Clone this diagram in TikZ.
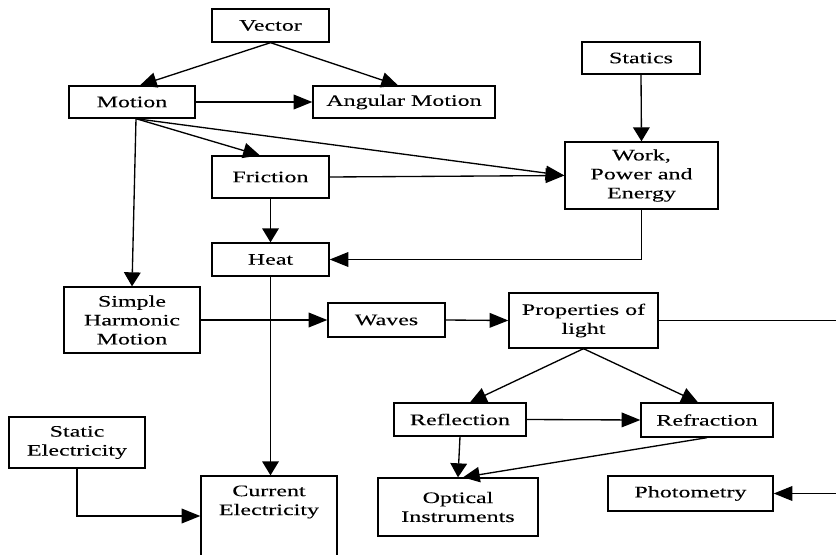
\documentclass[tikz,border=0pt]{standalone}
\usepackage{fontspec}
\setmainfont{Liberation Serif}[FakeStretch=1.5, FakeBold=0.1]
\usetikzlibrary{arrows.meta}
\tikzset{
  box/.style={draw, line width=1pt, inner sep=0pt, align=center,
    font=\fontsize{12}{14.2}\selectfont},
  link/.style={line width=1pt},
  harr/.style={link, -{Triangle[length=14pt,width=11pt]}},
  varr/.style={link, -{Triangle[length=10.5pt,width=12.5pt]}},
  darr/.style={link, -{Triangle[length=12.5pt,width=11.5pt]}},
}
\begin{document}
\begin{tikzpicture}[x=0.75pt, y=-0.75pt]
\clip (0,0) rectangle (836,554);
\fill[white] (0,0) rectangle (836,554);

% mechanics
\node[box, minimum width=117*0.75pt, minimum height=33*0.75pt] (vec) at (270.5,25.5) {Vector};
\node[box, minimum width=126*0.75pt, minimum height=32*0.75pt] (mot) at (132,102) {Motion};
\node[box, minimum width=182*0.75pt, minimum height=32*0.75pt] (ang) at (404,102) {Angular Motion};
\node[box, minimum width=118*0.75pt, minimum height=32*0.75pt] (sta) at (641,58) {Statics};
\node[box, minimum width=117*0.75pt, minimum height=42*0.75pt] (fri) at (270.5,177) {Friction};
\node[box, minimum width=153*0.75pt, minimum height=67*0.75pt] (wrk) at (641.5,175.5) {Work,\\Power and\\Energy};
\node[box, minimum width=117*0.75pt, minimum height=33*0.75pt] (hea) at (270.5,259.5) {Heat};
\node[box, minimum width=136*0.75pt, minimum height=66*0.75pt] (shm) at (132,320) {Simple\\Harmonic\\Motion};

% waves and optics
\node[box, minimum width=117*0.75pt, minimum height=34*0.75pt] (wav) at (386.5,320) {Waves};
\node[box, minimum width=149*0.75pt, minimum height=55*0.75pt] (pro) at (583.5,320.5) {Properties of\\light};
\node[box, minimum width=132*0.75pt, minimum height=33*0.75pt] (rfl) at (460,419.5) {Reflection};
\node[box, minimum width=132*0.75pt, minimum height=34*0.75pt] (rfr) at (707,420) {Refraction};
\node[box, minimum width=160*0.75pt, minimum height=58*0.75pt] (opt) at (458,507) {Optical\\Instruments};
\node[box, minimum width=165*0.75pt, minimum height=35*0.75pt] (pho) at (690.5,493.5) {Photometry};

% electricity
\node[box, minimum width=136*0.75pt, minimum height=51*0.75pt] (sel) at (77,442.5) {Static\\Electricity};
\node[box, minimum width=136*0.75pt, minimum height=80*0.75pt] (cur) at (269,516) {};
\node[box, draw=none] (curtxt) at (269,502) {Current\\Electricity};

\coordinate (rt) at (850,320.5);

% connectors
\draw[darr] (vec.south) -- ([xshift=6pt]mot.north);
\draw[darr] (vec.south) -- ([xshift=-4.5pt]ang.north);
\draw[harr] (mot.east) -- (ang.west);
\draw[darr] ([xshift=3pt]mot.south) -- ([xshift=-8pt]fri.north);
\draw[harr] ([xshift=3pt]mot.south) -- (wrk.west);
\draw[varr] ([xshift=3pt]mot.south) -- (shm.north);
\draw[harr] (fri.east) -- (wrk.west);
\draw[varr] (sta.south) -- (wrk.north);
\draw[varr] (fri.south) -- (hea.north);
\draw[harr] (wrk.south) |- (hea.east);
\draw[varr] (hea.south) -- (hea.south |- cur.north);
\draw[harr] (shm.east) -- (wav.west);
\draw[harr] (wav.east) -- (pro.west);
\draw[harr] (pro.east) -- (rt) |- (pho.east);
\draw[darr] (pro.south) -- ([xshift=7.5pt]rfl.north);
\draw[darr] (pro.south) -- ([xshift=-6.75pt]rfr.north);
\draw[harr] (rfl.east) -- (rfr.west);
\draw[varr] (rfl.south) -- (opt.north);
\draw[darr] (rfr.south) -- ([xshift=3.75pt]opt.north);
\draw[harr] (sel.south) |- (cur.west);
\end{tikzpicture}
\end{document}
